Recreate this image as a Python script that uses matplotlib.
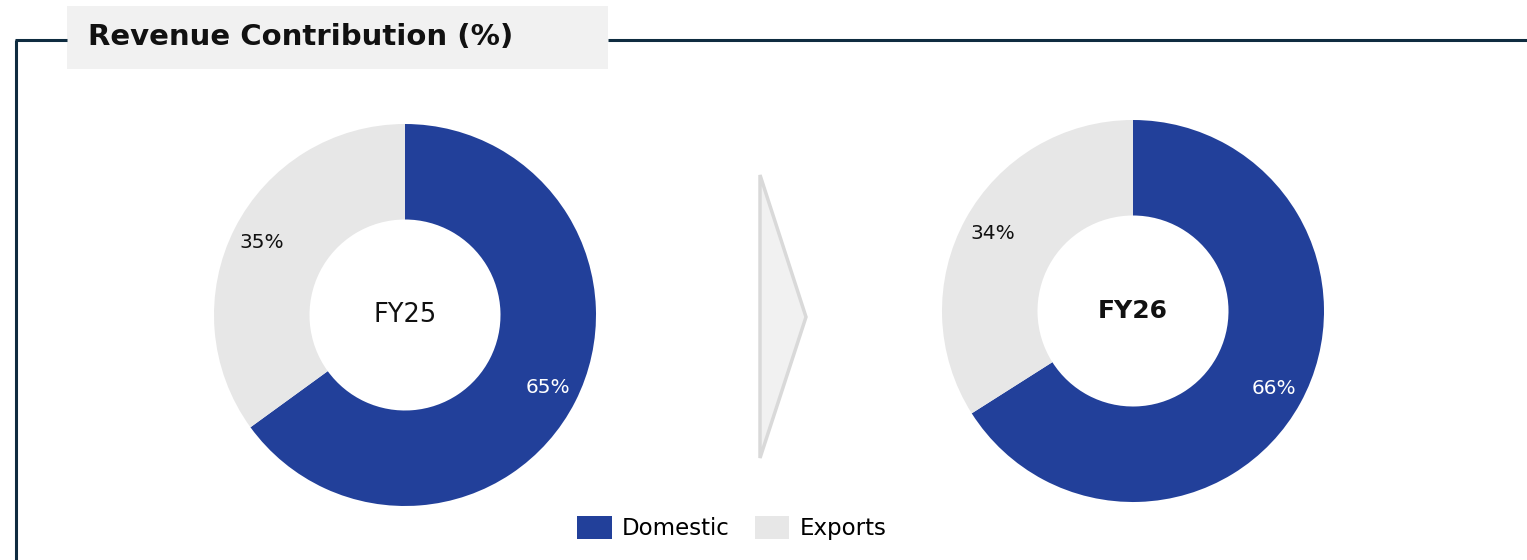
import matplotlib
matplotlib.use("Agg")
import matplotlib.pyplot as plt
from matplotlib.patches import Rectangle, Polygon
from matplotlib.lines import Line2D

W, H = 1527, 560
title = "Revenue Contribution (%)"
categories = ["Domestic", "Exports"]
periods = ["FY25", "FY26"]
values_fy25 = [65, 35]
values_fy26 = [66, 34]
colors = ["#22409a", "#e7e7e7"]
label_colors = ["white", "#111111"]

plt.rcParams['font.family'] = ['DejaVu Sans']

fig = plt.figure(figsize=(W / 100, H / 100), dpi=100)
fig.patch.set_facecolor("white")

def fx(x):
    return x / W

def fy(y):
    return 1 - y / H

# frame lines
frame_color = "#0f2c40"
fig.add_artist(Line2D([fx(16), fx(16)], [fy(40), fy(562)], color=frame_color, lw=2.2, solid_capstyle="butt"))
fig.add_artist(Line2D([fx(15), fx(67)], [fy(40), fy(40)], color=frame_color, lw=2.2, solid_capstyle="butt"))
fig.add_artist(Line2D([fx(608), fx(1530)], [fy(40), fy(40)], color=frame_color, lw=2.2, solid_capstyle="butt"))

# title box
fig.add_artist(Rectangle((fx(67), fy(69)), fx(608) - fx(67), fy(6) - fy(69),
                         facecolor="#f1f1f1", edgecolor="none"))
fig.text(fx(88), fy(37), title, fontsize=21, fontweight="bold", color="#111111",
         ha="left", va="center")

# arrow shape
fig.add_artist(Polygon([(fx(760), fy(175)), (fx(806), fy(317)), (fx(760), fy(458))],
                       closed=True, facecolor="#f1f1f1", edgecolor="#d9d9d9", lw=2.5))

def donut(cx, cy, r, vals, center_label, bold):
    ax = fig.add_axes([fx(cx - r), fy(cy + r), fx(2 * r), fy(cy - r) - fy(cy + r)])
    wedges, texts, autotexts = ax.pie(
        vals, colors=colors, startangle=90, counterclock=False, radius=1,
        autopct=lambda p: f"{p:.0f}%", pctdistance=0.84,
        wedgeprops=dict(width=0.5, edgecolor="none"),
        textprops=dict(fontsize=14.5))
    for t, c in zip(autotexts, label_colors):
        t.set_color(c)
    ax.text(0, 0, center_label, ha="center", va="center",
            fontsize=18 if bold else 18.5,
            fontweight="bold" if bold else "normal", color="#111111")
    ax.set_xlim(-1, 1)
    ax.set_ylim(-1, 1)
    ax.set_aspect("equal")
    ax.axis("off")
    return wedges

w1 = donut(405, 315, 191, values_fy25, periods[0], False)
w2 = donut(1133, 311, 191, values_fy26, periods[1], True)

fig.legend(w1, categories, loc="center", bbox_to_anchor=(fx(732), fy(528)),
           ncol=2, frameon=False, fontsize=16.5, handlelength=1.5, handleheight=1.15,
           handletextpad=0.45, columnspacing=1.1)

fig.savefig("out.png", dpi=100, facecolor="white")
